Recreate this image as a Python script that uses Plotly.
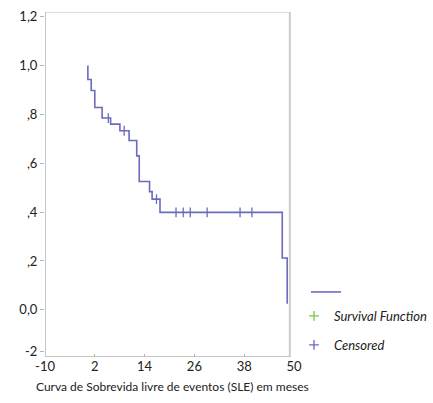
import plotly.graph_objects as go

# Kaplan-Meier step data
event_times = [0.33, 1.14, 2.0, 3.76, 5.81, 8.05, 10.26, 12.1, 12.71, 15.19, 15.81, 17.71, 47.17, 48.36]
surv_after = [0.943, 0.898, 0.828, 0.785, 0.760, 0.733, 0.693, 0.630, 0.525, 0.484, 0.453, 0.399, 0.212, 0.025]
start_surv = 1.0

censor_times = [5.26, 9.07, 16.86, 21.57, 23.31, 25.0, 29.07, 37.0, 39.86]
censor_surv = [0.785, 0.733, 0.453, 0.399, 0.399, 0.399, 0.399, 0.399, 0.399]

x_tickvals = [-10, 2, 14, 26, 38, 50]
x_ticktext = ["-10", "2", "14", "26", "38", "50"]
y_tickvals = [-0.17, 0.0, 0.2, 0.4, 0.6, 0.8, 1.0, 1.2]
y_ticktext = ["-2", "0,0", ",2", ",4", ",6", ",8", "1,0", "1,2"]

x_title = "Curva de Sobrevida livre de eventos (SLE) em meses"

LINE = "#6b6bbd"
GREEN = "#7cc444"
AXIS = "#b4b4b4"
FONT = "Lato"
W, H = 433, 403

x_range = [-10, 50]
x_frame_right = 49
y_range = [-0.193, 1.219]

fig = go.Figure()

fig.add_trace(go.Scatter(
    x=[event_times[0]] + event_times,
    y=[start_surv] + surv_after,
    mode="lines", line=dict(color=LINE, width=1.6, shape="hv"),
    name="", legend="legend", showlegend=True, hoverinfo="skip",
))
fig.add_trace(go.Scatter(
    x=[None], y=[None], mode="markers",
    marker=dict(symbol="cross-thin", size=7, line=dict(color=GREEN, width=1.3)),
    name="Survival Function", legend="legend2", legendgroup="a",
))
fig.add_trace(go.Scatter(
    x=censor_times, y=censor_surv, mode="markers",
    marker=dict(symbol="line-ns", size=7, line=dict(color=LINE, width=1.3)),
    name="Censored", showlegend=False, hoverinfo="skip",
))
fig.add_trace(go.Scatter(
    x=[None], y=[None], mode="markers",
    marker=dict(symbol="cross-thin", size=7, line=dict(color=LINE, width=1.3)),
    name="Censored", legend="legend2", legendgroup="b",
))

# frame
fig.add_shape(type="line", x0=x_range[0], x1=x_frame_right, y0=y_range[1], y1=y_range[1],
              line=dict(color="#d4d4d4", width=1.5), layer="below")
fig.add_shape(type="line", x0=x_frame_right, x1=x_frame_right, y0=y_range[0], y1=y_range[1],
              line=dict(color="#cccccc", width=2), layer="below")
fig.add_shape(type="line", x0=x_range[0], x1=x_frame_right, y0=y_range[0], y1=y_range[0],
              line=dict(color=AXIS, width=1.5), layer="below")
fig.add_shape(type="line", x0=x_range[0], x1=x_range[0], y0=y_range[0], y1=y_range[1],
              line=dict(color=AXIS, width=1.5), layer="below")

fig.add_annotation(text=x_title, xref="paper", yref="paper", x=0.512, y=-0.058,
                   xanchor="center", yanchor="top", showarrow=False,
                   font=dict(size=12))

fig.update_layout(
    width=W, height=H,
    margin=dict(l=45, r=136, t=12, b=46),
    paper_bgcolor="white", plot_bgcolor="white",
    font=dict(family=FONT, size=13, color="#222222"),
    xaxis=dict(range=x_range, tickvals=x_tickvals, ticktext=x_ticktext,
               showgrid=False, zeroline=False, showline=False, automargin=False,
               ticks="inside", ticklen=3, tickcolor=AXIS, tickwidth=1,
               tickfont=dict(size=13)),
    yaxis=dict(range=y_range, tickvals=y_tickvals, ticktext=y_ticktext,
               showgrid=False, zeroline=False, showline=False, automargin=False,
               ticks="outside", ticklen=4, tickcolor=AXIS, tickwidth=1,
               tickfont=dict(size=13)),
    legend=dict(x=306 / W, xref="container", y=1 - 277 / H, yref="container",
                xanchor="left", yanchor="top",
                bgcolor="rgba(0,0,0,0)", itemwidth=30,
                font=dict(size=13, style="italic")),
    legend2=dict(x=294 / W, xref="container", y=1 - 301 / H, yref="container",
                 xanchor="left", yanchor="top",
                 bgcolor="rgba(0,0,0,0)", itemwidth=30,
                 traceorder="grouped", tracegroupgap=9,
                 font=dict(size=13, style="italic")),
)

fig.write_html("out.html")
